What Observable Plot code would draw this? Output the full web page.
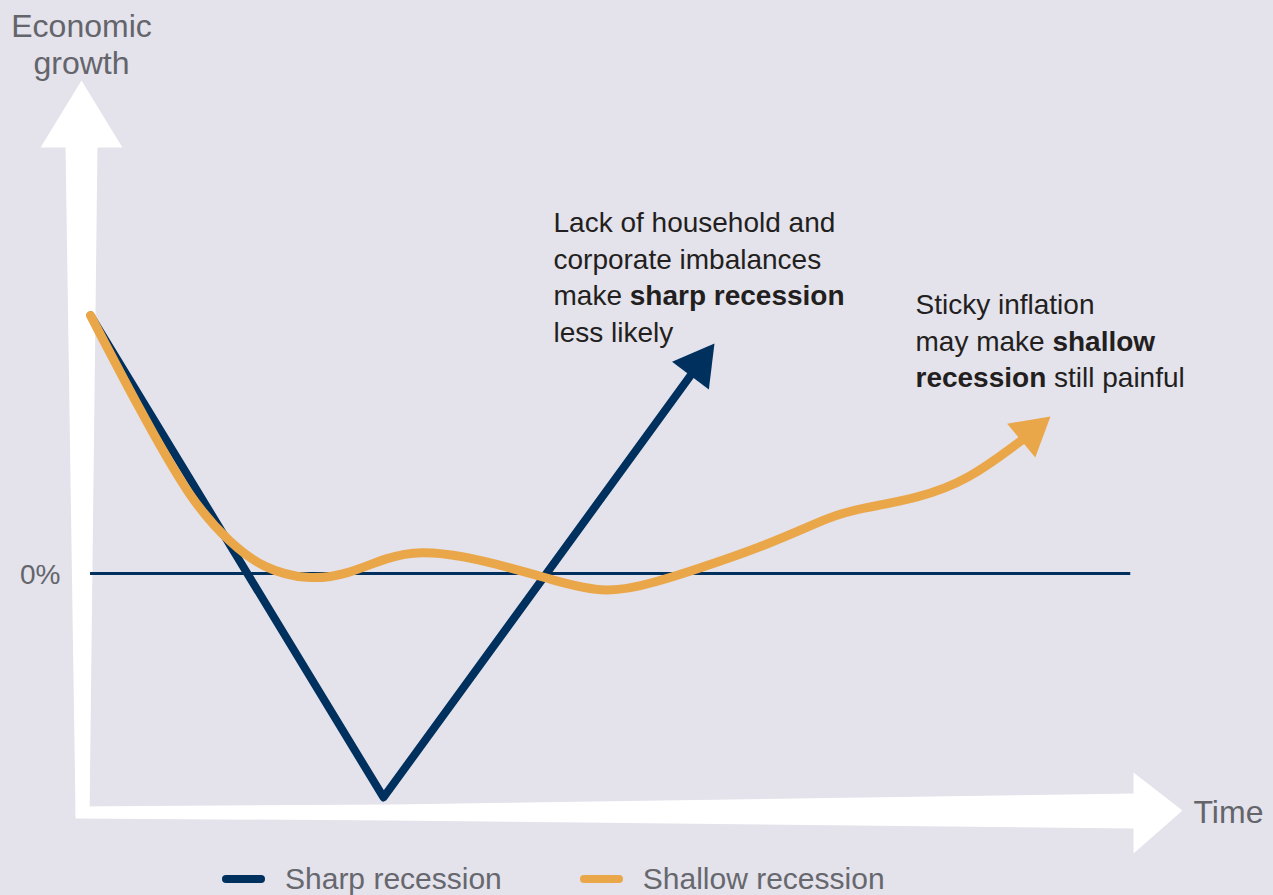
<!DOCTYPE html>
<html>
<head>
<meta charset="utf-8">
<script src="https://cdn.jsdelivr.net/npm/d3@7"></script>
<script src="https://cdn.jsdelivr.net/npm/@observablehq/plot@0.6"></script>
<style>
  html, body { margin: 0; padding: 0; background: #e4e2eb; overflow: hidden; }
  #chart svg { display: block; }
  #legend { display: flex; align-items: center; height: 38px; padding-left: 222px;
            font-family: "Liberation Sans", Arial, sans-serif; font-size: 30px; color: #66686e; line-height: 38px; }
  .item { display: flex; align-items: center; margin-right: 78px; }
  .sw { width: 43px; height: 8px; border-radius: 4px; margin-right: 20px; }
</style>
</head>
<body>
<div id="chart"></div>
<div id="legend"></div>
<script>
// ---- data (time units 0..100, growth units; 0 = 0% growth) ----
const seriesNames = ["Sharp recession", "Shallow recession"];
const seriesColors = ["#00305e", "#eaa74a"];

const sharpX = [0.82, 27.43, 55.31];
const sharpY = [10.0, -8.68, 7.67];

const shallowX = [0.82, 5.18, 9.90, 13.53, 16.53, 20.53, 24.16, 27.79, 30.79, 34.70, 39.24, 42.33, 47.77, 52.59, 54.68, 62.31, 68.30, 70.75, 75.93, 80.47, 85.38];
const shallowY = [10.0, 6.43, 2.83, 1.16, 0.19, -0.26, -0.04, 0.64, 0.88, 0.68, 0.19, -0.19, -0.84, -0.27, 0.0, 1.09, 2.27, 2.52, 2.91, 3.60, 5.16];

// arrow tips of each scenario line
const tipX = [57.49, 88.01];
const tipY = [8.91, 6.09];

// zero-growth reference line
const zeroLine = {y: 0, x1: 0.82, x2: 95.3};

// axis arrows (outline in data units)
const vAxisX = [-0.54, -1.45, -3.72, 0, 3.72, 1.45, 0.73];
const vAxisY = [-9.38, 16.51, 16.51, 19.11, 16.51, 16.51, -9.38];
const hAxisX = [-0.54, 28.07, 95.55, 95.55, 100, 95.55, 95.55, 28.07, -0.54];
const hAxisY = [-9.03, -8.95, -8.53, -7.71, -9.19, -10.85, -9.88, -9.57, -9.50];

// text
const axisLabels = [
  {x: 0, y: 21.83, text: "Economic\ngrowth", anchor: "middle", line: "top"},
  {x: -1.91, y: 0, text: "0%", anchor: "end", line: "middle"},
  {x: 101.0, y: -9.22, text: "Time", anchor: "start", line: "middle"}
];
const notes = [
  {x: 42.87, y: 14.22, text: "Lack of household and\ncorporate imbalances\nmake **sharp recession**\nless likely"},
  {x: 75.75, y: 11.05, text: "Sticky inflation\nmay make **shallow**\n**recession** still painful"}
];

// ---- build ----
const X_DOMAIN = [0, 100], X_RANGE = [81, 1182];
const Y_DOMAIN = [-10, 10], Y_RANGE = [831, 315];
const xs = d3.scaleLinear(X_DOMAIN, X_RANGE);
const ys = d3.scaleLinear(Y_DOMAIN, Y_RANGE);

const sharp = sharpX.map((x, i) => ({x, y: sharpY[i]}));
const shallow = shallowX.map((x, i) => ({x, y: shallowY[i]}));
const ends = [sharp[sharp.length - 1], shallow[shallow.length - 1]];
const tips = tipX.map((x, i) => {
  const dx = xs(x) - xs(ends[i].x), dy = ys(tipY[i]) - ys(ends[i].y);
  return {x, y: tipY[i], rot: Math.atan2(dx, -dy) * 180 / Math.PI, color: seriesColors[i], i};
});
const axisPoly = [
  ...vAxisX.map((x, i) => ({shape: "v", x, y: vAxisY[i]})),
  ...hAxisX.map((x, i) => ({shape: "h", x, y: hAxisY[i]}))
];

function headSymbol(L, W) {
  return {draw(ctx) { ctx.moveTo(0, 0); ctx.lineTo(-W / 2, L); ctx.lineTo(W / 2, L); ctx.closePath(); }};
}
const heads = [headSymbol(40, 46), headSymbol(38, 44)];

const plot = Plot.plot({
  width: 1273,
  height: 860,
  style: {background: "transparent", overflow: "visible"},
  x: {domain: X_DOMAIN, range: X_RANGE, axis: null},
  y: {domain: Y_DOMAIN, range: Y_RANGE, axis: null},
  marks: [
    Plot.line(axisPoly, {x: "x", y: "y", z: "shape", fill: "white", stroke: "none", curve: "linear-closed"}),
    Plot.ruleY([zeroLine], {y: "y", x1: "x1", x2: "x2", stroke: seriesColors[0], strokeWidth: 3}),
    Plot.line(sharp, {x: "x", y: "y", stroke: seriesColors[0], strokeWidth: 8, strokeLinejoin: "round", strokeLinecap: "round"}),
    Plot.dot([tips[0]], {x: "x", y: "y", rotate: "rot", symbol: heads[0], fill: seriesColors[0], stroke: "none"}),
    Plot.line(shallow, {x: "x", y: "y", stroke: seriesColors[1], strokeWidth: 9, curve: "basis", strokeLinecap: "round", strokeLinejoin: "round"}),
    Plot.dot([tips[1]], {x: "x", y: "y", rotate: "rot", symbol: heads[1], fill: seriesColors[1], stroke: "none"}),
    ...axisLabels.map(d => Plot.text([d], {x: "x", y: "y", text: "text", textAnchor: d.anchor, lineAnchor: d.line,
      fontSize: d.text === "0%" ? 28 : 32, lineHeight: 1.16, fill: "#63656b",
      fontFamily: "'Liberation Sans', Arial, sans-serif"})),
    Plot.text(notes, {x: "x", y: "y", text: "text", textAnchor: "start", lineAnchor: "top", fontSize: 28,
      lineHeight: 1.3, fill: "#231f20", fontFamily: "'Liberation Sans', Arial, sans-serif"})
  ]
});

// bold segments marked with **
plot.querySelectorAll("text, tspan").forEach(el => {
  if (el.children.length) return;
  const t = el.textContent;
  if (!t.includes("**")) return;
  el.textContent = "";
  t.split("**").forEach((part, i) => {
    if (!part) return;
    const ts = document.createElementNS("http://www.w3.org/2000/svg", "tspan");
    ts.textContent = part;
    if (i % 2 === 1) ts.setAttribute("font-weight", "bold");
    el.appendChild(ts);
  });
});
document.getElementById("chart").appendChild(plot);

// legend
const legend = document.getElementById("legend");
seriesNames.forEach((name, i) => {
  const item = document.createElement("div");
  item.className = "item";
  const sw = document.createElement("span");
  sw.className = "sw";
  sw.style.background = seriesColors[i];
  const lab = document.createElement("span");
  lab.textContent = name;
  item.appendChild(sw); item.appendChild(lab);
  legend.appendChild(item);
});
</script>
</body>
</html>
